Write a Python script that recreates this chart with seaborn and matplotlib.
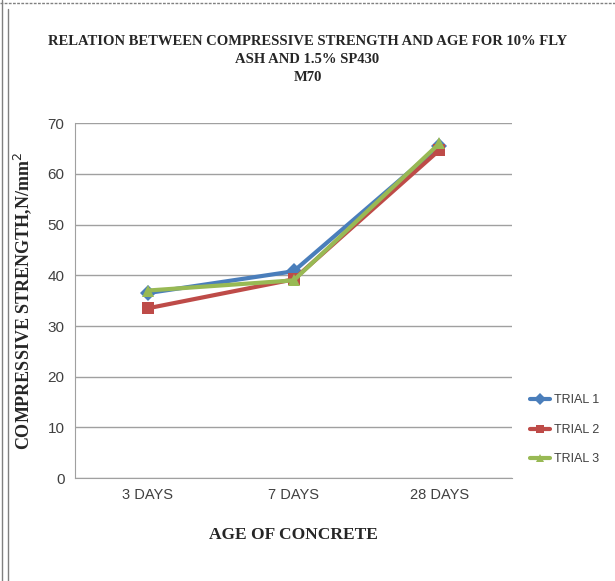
from matplotlib import pyplot as plt
from matplotlib.lines import Line2D
import seaborn as sns
import pandas as pd

# values
ages = ["3 DAYS", "7 DAYS", "28 DAYS"]
trial1 = [36.5, 40.8, 65.5]
trial2 = [33.5, 39.2, 64.7]
trial3 = [37.0, 39.0, 66.0]
trials = ["TRIAL 1", "TRIAL 2", "TRIAL 3"]

df = pd.DataFrame({
    "age": ages * 3,
    "strength": trial1 + trial2 + trial3,
    "trial": [t for t in trials for _ in ages],
})

sns.set_style("white")
plt.rcParams["font.family"] = ["Liberation Sans", "DejaVu Sans"]

colors = ["#4A7EBB", "#BE4B48", "#98B954"]
markers = ["D", "s", "^"]

fig = plt.figure(figsize=(6.15, 5.81), dpi=100)
ax = fig.add_axes([0.122, 0.177, 0.711, 0.611])

sns.lineplot(data=df, x="age", y="strength", hue="trial", style="trial",
             palette=colors, markers=markers, dashes=False, linewidth=3,
             markersize=8, markeredgewidth=0, sort=False, ax=ax, legend=False)

ax.set_xlim(-0.5, 2.5)
ax.set_ylim(0, 70)
ax.set_yticks(range(0, 71, 10))
ax.yaxis.grid(True, color="#A0A0A0", linewidth=1)
ax.set_axisbelow(True)
for s in ["top", "right"]:
    ax.spines[s].set_visible(False)
ax.spines["left"].set_color("#A0A0A0")
ax.spines["bottom"].set_color("#A0A0A0")
ax.tick_params(axis="y", length=4, color="#A0A0A0", labelsize=11, labelcolor="#404040")
ax.tick_params(axis="x", length=0, labelsize=10.5, labelcolor="#404040", pad=7)
ax.set_xlabel("AGE OF CONCRETE", family="Liberation Serif", fontweight="bold",
              fontsize=12.5, labelpad=18)
ax.set_ylabel("COMPRESSIVE STRENGTH,N/mm$^2$", family="Liberation Serif",
              fontweight="bold", fontsize=13, labelpad=10)

fig.text(0.5, 0.94, "RELATION BETWEEN COMPRESSIVE STRENGTH AND AGE FOR 10% FLY\n"
         "ASH AND 1.5% SP430\nM70", ha="center", va="top", family="Liberation Serif",
         fontweight="bold", fontsize=10.5, linespacing=1.5)

handles = [Line2D([], [], color=c, marker=m, linewidth=3, markersize=6, markeredgewidth=0)
           for c, m in zip(colors, markers)]
fig.legend(handles, trials, loc="center left", bbox_to_anchor=(0.862, 0.26),
           frameon=False, fontsize=9, handlelength=1.6, labelspacing=1.4,
           handletextpad=0.3, labelcolor="#404040", borderaxespad=0, borderpad=0)

# page/table frame lines
fig.add_artist(Line2D([0, 1], [0.995, 0.995], color="#808080", linestyle=(0, (2, 1)),
                      linewidth=1, transform=fig.transFigure))
fig.add_artist(Line2D([0.004, 0.004], [0, 1], color="#808080", linewidth=1,
                      transform=fig.transFigure))
fig.add_artist(Line2D([0.013, 0.013], [0, 0.985], color="#808080", linewidth=1,
                      transform=fig.transFigure))

fig.savefig("out.png", dpi=100)
